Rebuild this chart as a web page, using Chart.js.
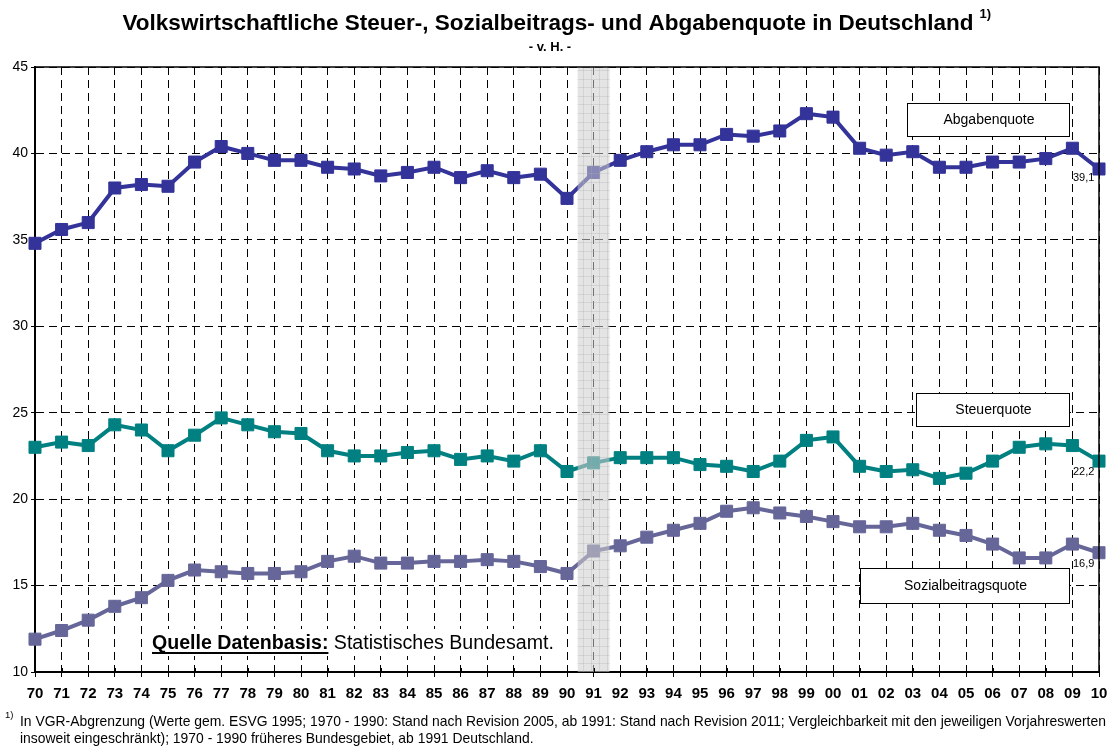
<!DOCTYPE html>
<html>
<head>
<meta charset="utf-8">
<script src="https://cdn.jsdelivr.net/npm/chart.js@4.4.1/dist/chart.umd.min.js"></script>
<style>
html,body{margin:0;padding:0;background:#fff;}
#wrap{position:relative;width:1118px;height:746px;}
canvas{display:block;}
</style>
</head>
<body>
<div id="wrap"><canvas id="c" width="1118" height="746"></canvas></div>
<script>
// ---- Data ----
const years = ['70','71','72','73','74','75','76','77','78','79','80','81','82','83','84','85','86','87','88','89','90','91','92','93','94','95','96','97','98','99','00','01','02','03','04','05','06','07','08','09','10'];
const abgabenquote = [34.8,35.6,36.0,38.0,38.2,38.1,39.5,40.4,40.0,39.6,39.6,39.2,39.1,38.7,38.9,39.2,38.6,39.0,38.6,38.8,37.4,38.9,39.6,40.1,40.5,40.5,41.1,41.0,41.3,42.3,42.1,40.3,39.9,40.1,39.2,39.2,39.5,39.5,39.7,40.3,39.1];
const steuerquote = [23.0,23.3,23.1,24.3,24.0,22.8,23.7,24.7,24.3,23.9,23.8,22.8,22.5,22.5,22.7,22.8,22.3,22.5,22.2,22.8,21.6,22.1,22.4,22.4,22.4,22.0,21.9,21.6,22.2,23.4,23.6,21.9,21.6,21.7,21.2,21.5,22.2,23.0,23.2,23.1,22.2];
const sozialbeitragsquote = [11.9,12.4,13.0,13.8,14.3,15.3,15.9,15.8,15.7,15.7,15.8,16.4,16.7,16.3,16.3,16.4,16.4,16.5,16.4,16.1,15.7,17.0,17.3,17.8,18.2,18.6,19.3,19.5,19.2,19.0,18.7,18.4,18.4,18.6,18.2,17.9,17.4,16.6,16.6,17.4,16.9];
const seriesNames = ['Abgabenquote','Steuerquote','Sozialbeitragsquote'];
const yTicks = [10,15,20,25,30,35,40,45];
const bandFrom = 20.4, bandTo = 21.6; // shaded break 1990/1991 (index units)

const FONT = '"Liberation Sans", Arial, sans-serif';

const overlay = {
  id: 'overlay',
  afterDatasetsDraw(chart) {
    const ctx = chart.ctx, a = chart.chartArea;
    const xs = chart.scales.x;
    const step = xs.getPixelForValue(1) - xs.getPixelForValue(0);
    const x0 = xs.getPixelForValue(0) + bandFrom * step;
    const x1 = xs.getPixelForValue(0) + bandTo * step;
    ctx.save();
    ctx.fillStyle = 'rgba(205,205,205,0.55)';
    ctx.fillRect(x0, a.top, x1 - x0, a.bottom - a.top);
    ctx.strokeStyle = 'rgba(170,170,170,0.3)';
    ctx.lineWidth = 1;
    ctx.beginPath();
    for (let y = a.top + 3; y < a.bottom; y += 8.6) { ctx.moveTo(x0, Math.round(y)+0.5); ctx.lineTo(x1, Math.round(y)+0.5); }
    for (let x = x0 + 5; x < x1; x += 8) { ctx.moveTo(Math.round(x)+0.5, a.top); ctx.lineTo(Math.round(x)+0.5, a.bottom); }
    ctx.stroke();
    ctx.restore();
  },
  afterDraw(chart) {
    const ctx = chart.ctx, a = chart.chartArea;
    const xs = chart.scales.x;
    ctx.save();
    // frame
    ctx.strokeStyle = '#000';
    ctx.lineWidth = 1.5;
    ctx.beginPath();
    ctx.moveTo(a.left, a.top); ctx.lineTo(a.right, a.top); ctx.lineTo(a.right, a.bottom);
    ctx.stroke();
    // tick marks above x axis
    ctx.lineWidth = 1;
    ctx.beginPath();
    for (let i = 0; i < years.length; i++) {
      const x = Math.round(xs.getPixelForValue(i)) + 0.5;
      ctx.moveTo(x, a.bottom - 4); ctx.lineTo(x, a.bottom);
    }
    ctx.stroke();

    // title
    ctx.fillStyle = '#000';
    ctx.textBaseline = 'alphabetic';
    ctx.textAlign = 'left';
    ctx.font = 'bold 22.5px ' + FONT;
    const t = 'Volkswirtschaftliche Steuer-, Sozialbeitrags- und Abgabenquote in Deutschland';
    const tw = ctx.measureText(t).width;
    const tx = 548 - tw / 2;
    ctx.fillText(t, tx, 30);
    ctx.font = 'bold 13px ' + FONT;
    ctx.fillText('1)', tx + tw + 6, 18);
    ctx.textAlign = 'center';
    ctx.font = 'bold 13px ' + FONT;
    ctx.fillText('- v. H. -', 550, 51);

    // legend boxes
    const boxes = [
      {name: seriesNames[0], x: 907, y: 103, w: 162, h: 33},
      {name: seriesNames[1], x: 916, y: 393, w: 153, h: 33},
      {name: seriesNames[2], x: 860, y: 568, w: 209, h: 35}
    ];
    ctx.font = '14px ' + FONT;
    ctx.textBaseline = 'middle';
    boxes.forEach(b => {
      ctx.fillStyle = '#fff';
      ctx.fillRect(b.x, b.y, b.w, b.h);
      ctx.strokeStyle = '#000';
      ctx.lineWidth = 1;
      ctx.strokeRect(b.x + 0.5, b.y + 0.5, b.w, b.h);
      ctx.fillStyle = '#000';
      ctx.textAlign = 'center';
      ctx.fillText(b.name, b.x + b.w / 2 + 1, b.y + b.h / 2 + 1);
    });

    // end value labels
    ctx.font = '11px ' + FONT;
    ctx.textAlign = 'left';
    const last = years.length - 1;
    const ends = [
      [abgabenquote[last], 178],
      [steuerquote[last], 472],
      [sozialbeitragsquote[last], 564]
    ];
    ends.forEach(e => {
      ctx.fillText(e[0].toFixed(1).replace('.', ','), 1073, e[1]);
    });

    // source
    ctx.textBaseline = 'alphabetic';
    ctx.font = 'bold 19.6px ' + FONT;
    const s1 = 'Quelle Datenbasis:';
    const s1w = ctx.measureText(s1).width;
    ctx.font = '19.6px ' + FONT;
    const s2 = ' Statistisches Bundesamt.';
    const s2w = ctx.measureText(s2).width;
    ctx.fillStyle = '#fff';
    ctx.fillRect(148, 629, s1w + s2w + 8, 27);
    ctx.fillStyle = '#000';
    ctx.font = 'bold 19.6px ' + FONT;
    ctx.fillText(s1, 152, 649);
    ctx.fillRect(152, 652, s1w, 2);
    ctx.font = '19.6px ' + FONT;
    ctx.fillText(s2, 152 + s1w, 649);

    // footnote
    ctx.font = '9.5px ' + FONT;
    ctx.fillText('1)', 5, 718);
    ctx.font = '13.9px ' + FONT;
    ctx.fillText('In VGR-Abgrenzung (Werte gem. ESVG 1995; 1970 - 1990: Stand nach Revision 2005, ab 1991: Stand nach Revision 2011; Vergleichbarkeit mit den jeweiligen Vorjahreswerten', 20, 726);
    ctx.fillText('insoweit eingeschränkt); 1970 - 1990 früheres Bundesgebiet, ab 1991 Deutschland.', 20, 743);
    ctx.restore();
  }
};

const mk = (label, data, color) => ({
  label, data,
  borderColor: color, backgroundColor: color,
  borderWidth: 4,
  pointStyle: 'rect', pointRadius: 8.5, pointBorderWidth: 1,
  pointBackgroundColor: color, pointBorderColor: color,
  tension: 0, fill: false
});

new Chart(document.getElementById('c'), {
  type: 'line',
  data: {
    labels: years,
    datasets: [
      mk(seriesNames[0], abgabenquote, '#333399'),
      mk(seriesNames[1], steuerquote, '#008080'),
      mk(seriesNames[2], sozialbeitragsquote, '#666699')
    ]
  },
  options: {
    responsive: false,
    animation: false,
    layout: {padding: {top: 67, right: 19, left: 0, bottom: 0}},
    plugins: {legend: {display: false}, tooltip: {enabled: false}, title: {display: false}},
    scales: {
      x: {
        type: 'category',
        offset: false,
        afterFit: s => { s.height = 74; },
        grid: {color: '#000', lineWidth: 1, tickLength: 5, tickColor: '#000', drawOnChartArea: true},
        border: {display: true, color: '#000', width: 2, dash: [8, 5]},
        ticks: {color: '#000', font: {family: FONT, size: 15, weight: 'bold'}, padding: 8, maxRotation: 0, autoSkip: false}
      },
      y: {
        min: 10, max: 45,
        afterFit: s => { s.width = 35; },
        afterBuildTicks: s => { s.ticks = yTicks.map(v => ({value: v})); },
        grid: {color: '#000', lineWidth: 1, tickLength: 4, tickColor: '#000'},
        border: {display: true, color: '#000', width: 2, dash: [8, 5]},
        ticks: {color: '#000', font: {family: FONT, size: 14}, padding: 3}
      }
    }
  },
  plugins: [overlay]
});
</script>
</body>
</html>
